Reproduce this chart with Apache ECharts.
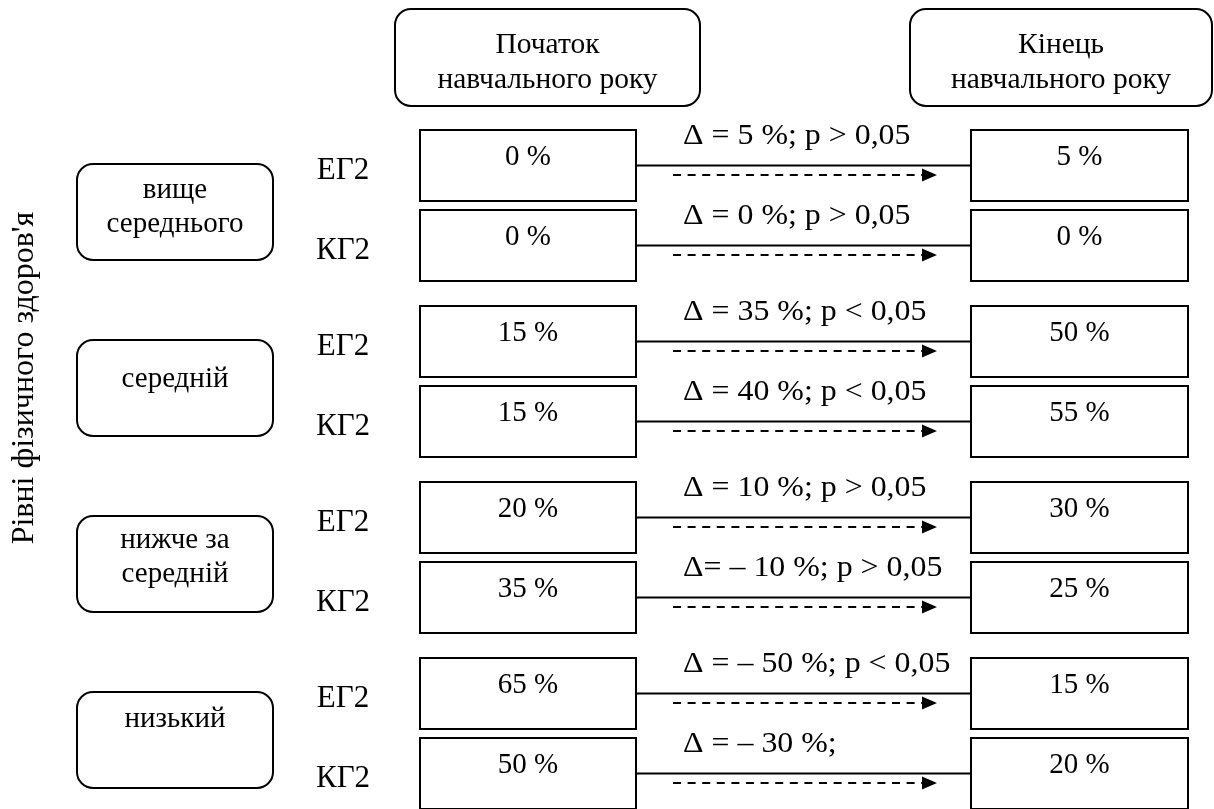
<!DOCTYPE html>
<html>
<head>
<meta charset="utf-8">
<script src="https://cdn.jsdelivr.net/npm/echarts@6/dist/echarts.min.js"></script>
<style>
html, body { margin: 0; padding: 0; background: #fff; }
#main { width: 1214px; height: 809px; }
</style>
</head>
<body>
<div id="main"></div>
<script>
// дані схеми
var levels = ['вище\nсереднього', 'середній', 'нижче за\nсередній', 'низький'];
var groups = ['ЕГ2', 'КГ2'];
var startVals = [0, 0, 15, 15, 20, 35, 65, 50];   // початок року, %
var endVals = [5, 0, 50, 55, 30, 25, 15, 20];     // кінець року, %
var deltaLabels = ['Δ = 5 %; p > 0,05', 'Δ = 0 %; p > 0,05', 'Δ = 35 %; p < 0,05', 'Δ = 40 %; p < 0,05',
	'Δ = 10 %; p > 0,05', 'Δ= – 10 %; p > 0,05', 'Δ = – 50 %; p < 0,05', 'Δ = – 30 %;'];
var headers = ['Початок\nнавчального року', 'Кінець\nнавчального року'];
var sideTitle = "Рівні фізичного здоров'я";

// розмітка (пікселі)
var FONT = "'Liberation Serif', 'Times New Roman', serif";
var boxH = 71;
var leftX = [420, 636], rightX = [971, 1188];
var headX = [[395, 700], [910, 1212]];
var levelX = [77, 273];
var levelTextDy = [43, 39, 41, 27];

function rowTop(i) {
	return 130 + Math.floor(i / 2) * 176 + (i % 2) * 80;
}

function txt(api, x, y, s, opt) {
	opt = opt || {};
	var c = api.coord([x, y]);
	return {
		type: 'text',
		x: c[0], y: c[1],
		rotation: opt.rotation || 0,
		scaleX: opt.sx || 1,
		style: {
			text: s, fill: '#000', font: (opt.fs || 29) + 'px ' + FONT,
			align: opt.align || 'center', verticalAlign: 'middle',
			lineHeight: opt.lh || 32
		}
	};
}

function rect(api, x0, y0, x1, y1, r) {
	var a = api.coord([x0, y0]), b = api.coord([x1, y1]);
	return {
		type: 'rect',
		shape: { x: a[0], y: a[1], width: b[0] - a[0], height: b[1] - a[1], r: r || 0 },
		style: { fill: '#fff', stroke: '#000', lineWidth: 2 }
	};
}

function line(api, x0, y0, x1, y1, dash, w) {
	var a = api.coord([x0, y0]), b = api.coord([x1, y1]);
	return {
		type: 'line',
		shape: { x1: a[0], y1: a[1], x2: b[0], y2: b[1] },
		style: { stroke: '#000', lineWidth: w || 2, lineDash: dash || null }
	};
}

// рядки: ліва клітинка -> стрілка -> права клітинка
function renderRow(params, api) {
	var i = api.value(0);
	var top = rowTop(i);
	var mid = top + 35.5;
	var tip = [[922, top + 38.5], [937, top + 45], [922, top + 51.5]].map(function (p) { return api.coord(p); });
	return {
		type: 'group',
		children: [
			line(api, leftX[1], mid, rightX[0], mid, null, 2),
			line(api, 673, top + 45, 923, top + 45, [8, 6.6], 2),
			{ type: 'polygon', shape: { points: tip }, style: { fill: '#000' } },
			rect(api, leftX[0], top, leftX[1], top + boxH),
			rect(api, rightX[0], top, rightX[1], top + boxH),
			txt(api, (leftX[0] + leftX[1]) / 2, top + 27.5, api.value(1) + ' %'),
			txt(api, (rightX[0] + rightX[1]) / 2, top + 27.5, api.value(2) + ' %'),
			txt(api, 683, top + 6, deltaLabels[i], { align: 'left', fs: 29, sx: 1.1 }),
			txt(api, 343, top + 41, groups[i % 2], { fs: 31 })
		]
	};
}

function renderLevel(params, api) {
	var g = api.value(0);
	var top = 164 + g * 176;
	return {
		type: 'group',
		children: [
			rect(api, levelX[0], top, levelX[1], top + 96, 16),
			txt(api, (levelX[0] + levelX[1]) / 2, top + levelTextDy[g], levels[g], { lh: 34, fs: 29 })
		]
	};
}

function renderHead(params, api) {
	var k = api.value(0);
	var x = headX[k];
	return {
		type: 'group',
		children: [
			rect(api, x[0], 9, x[1], 106, 16),
			txt(api, (x[0] + x[1]) / 2, 63, headers[k], { lh: 35, fs: 29.5 })
		]
	};
}

function renderTitle(params, api) {
	return txt(api, 25, 378, sideTitle, { rotation: Math.PI / 2, fs: 32 });
}

var chart = echarts.init(document.getElementById('main'));
var option = {
	animation: false,
	backgroundColor: '#fff',
	grid: { left: 0, right: 0, top: 0, bottom: 0 },
	xAxis: { type: 'value', min: 0, max: 1214, show: false },
	yAxis: { type: 'value', min: 0, max: 809, inverse: true, show: false },
	series: [
		{ type: 'custom', silent: true, clip: false, renderItem: renderHead, data: headers.map(function (h, k) { return [k]; }) },
		{ type: 'custom', silent: true, clip: false, renderItem: renderLevel, data: levels.map(function (l, g) { return [g]; }) },
		{ type: 'custom', silent: true, clip: false, renderItem: renderRow, data: startVals.map(function (v, i) { return [i, v, endVals[i]]; }) },
		{ type: 'custom', silent: true, clip: false, renderItem: renderTitle, data: [[0]] }
	]
};
chart.setOption(option);
</script>
</body>
</html>
